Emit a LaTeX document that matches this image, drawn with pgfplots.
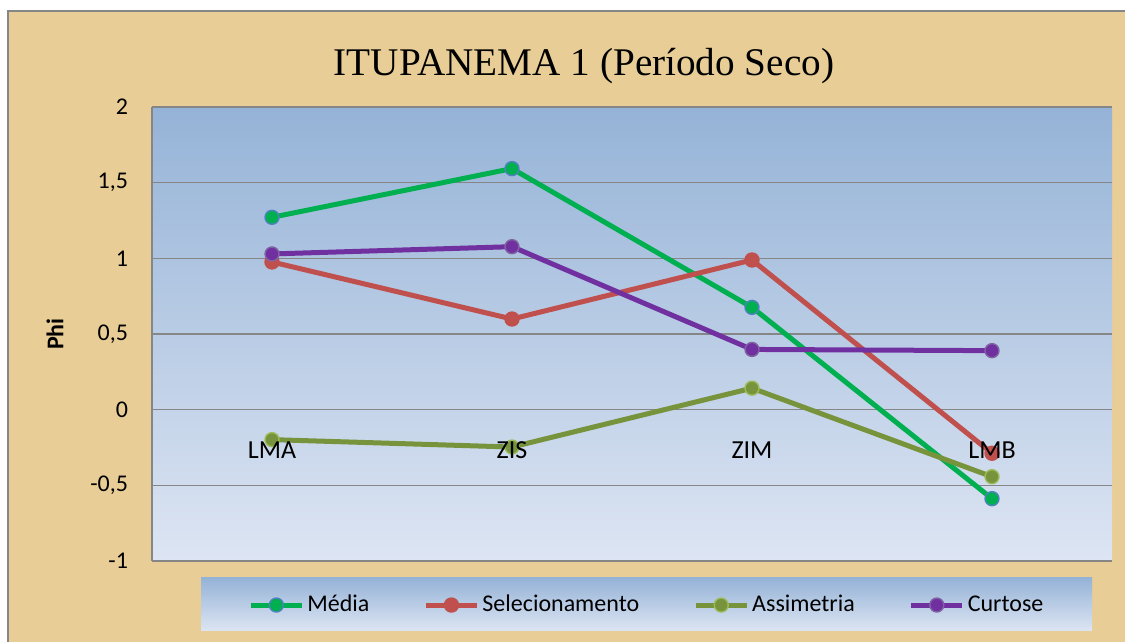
\documentclass[border=0pt]{standalone}
\usepackage{pgfplots}
\pgfplotsset{compat=1.18}
\usepackage{fontspec}
\setmainfont{Carlito}
\newfontfamily\titlefont{Liberation Serif}
\definecolor{parch}{RGB}{232,205,150}
\definecolor{plottop}{RGB}{149,179,215}
\definecolor{plotbot}{RGB}{221,229,243}
\definecolor{gridc}{RGB}{134,134,134}
\definecolor{cmedia}{RGB}{0,176,80}
\definecolor{cmediab}{RGB}{79,129,189}
\definecolor{csel}{RGB}{192,80,77}
\definecolor{cass}{RGB}{119,147,60}
\definecolor{cassb}{RGB}{155,187,89}
\definecolor{ccur}{RGB}{112,48,160}
\definecolor{ccurb}{RGB}{128,100,162}
\begin{document}
\begin{tikzpicture}
\path[use as bounding box] (0pt,0pt) rectangle (562.5pt,321pt);
\fill[white] (0pt,0pt) rectangle (562.5pt,321pt);
\fill[parch] (4pt,0pt) rectangle (562.5pt,315.5pt);
\draw[gridc, line width=1.2pt] (4pt,0pt) -- (4pt,315.5pt) -- (562.5pt,315.5pt);
\shade[top color=plottop, bottom color=plotbot] (100.5pt,5.5pt) rectangle (546pt,32pt);
\node[font=\titlefont\fontsize{19.6}{24}\selectfont, anchor=base, inner sep=0pt] at (292pt,283pt) {ITUPANEMA 1 (Período Seco)};
\begin{axis}[
  at={(76pt,40.5pt)}, anchor=south west,
  scale only axis, width=480pt, height=227pt,
  xmin=-0.5, xmax=3.5, ymin=-1, ymax=2,
  axis lines*=left,
  xtick={0,1,2,3}, xticklabels={},
  ytick={-1,-0.5,0,0.5,1,1.5,2},
  major tick length=0pt,
  ymajorgrids, major grid style={gridc, line width=0.8pt},
  axis line style={-, gridc, line width=0.8pt},
  axis background/.style={top color=plottop, bottom color=plotbot},
  font=\fontsize{12}{14}\selectfont,
  yticklabel style={font=\fontsize{12}{14}\selectfont, xshift=-8.5pt},
  /pgf/number format/use comma,
  /pgf/number format/fixed,
  /pgf/number format/assume math mode=true,
  ylabel={\textbf{Phi}},
  ylabel style={at={(axis description cs:-0.101,0.5)}, anchor=center, rotate=0},
  legend columns=4,
  legend style={at={(0.516,-0.097)}, anchor=center, draw=none, fill=none,
    font=\fontsize{12}{14}\selectfont,
    /tikz/every even column/.append style={column sep=25.5pt},
    nodes={inner xsep=1.5pt}},
  legend image code/.code={\draw[mark repeat=2,mark phase=2,#1] plot coordinates {(0pt,0pt) (12.75pt,0pt) (25.5pt,0pt)};},
  every axis plot/.append style={line width=2.5pt, mark=*, mark size=3.5pt},
]
\addplot[color=cmedia, mark options={fill=cmedia, draw=cmediab, line width=0.7pt}] coordinates {(0,1.271) (1,1.593) (2,0.676) (3,-0.588)};
\addlegendentry{Média}
\addplot[color=csel, mark options={fill=csel, draw=csel, line width=0.7pt}] coordinates {(0,0.976) (1,0.599) (2,0.989) (3,-0.288)};
\addlegendentry{Selecionamento}
\addplot[color=cass, mark options={fill=cass, draw=cassb, line width=0.7pt}] coordinates {(0,-0.198) (1,-0.247) (2,0.142) (3,-0.443)};
\addlegendentry{Assimetria}
\addplot[color=ccur, mark options={fill=ccur, draw=ccurb, line width=0.7pt}] coordinates {(0,1.029) (1,1.077) (2,0.398) (3,0.390)};
\addlegendentry{Curtose}
% category labels, set on the zero line as in the reference
\addplot[draw=none, mark=none, nodes near coords, point meta=explicit symbolic,
  every node near coord/.append style={anchor=base, yshift=-24.5pt, text=black, font=\fontsize{13}{15}\selectfont}]
  coordinates {(0,0) [LMA] (1,0) [ZIS] (2,0) [ZIM] (3,0) [LMB]};
\end{axis}
\end{tikzpicture}
\end{document}
